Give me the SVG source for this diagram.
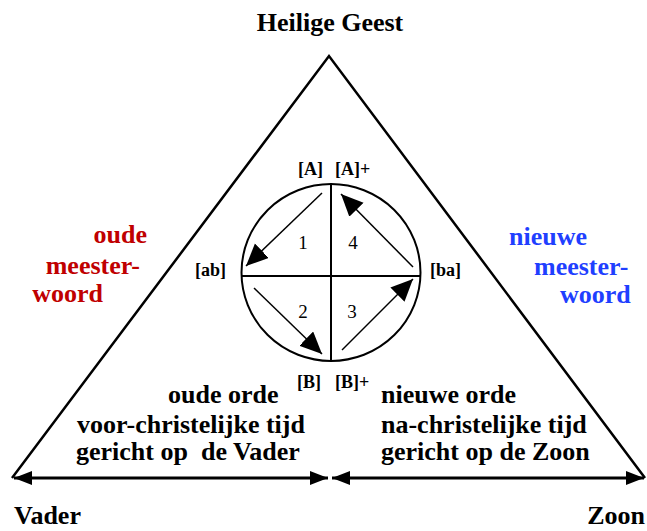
<svg xmlns="http://www.w3.org/2000/svg" width="647" height="531" viewBox="0 0 647 531">
<style>
.t{font-family:"Liberation Serif","Times New Roman",serif;font-weight:bold;fill:#000;white-space:pre}
.big{font-size:26px}
.lbl{font-size:18px}
.num{font-family:"Liberation Serif","Times New Roman",serif;font-size:19px;fill:#000;text-anchor:middle}
.red{fill:#c00000}
.blue{fill:#1f3fff}
.edge{fill:none;stroke:#000;stroke-width:2.5;stroke-linejoin:miter}
.base{stroke:#000;stroke-width:3}
.ca{stroke:#000;stroke-width:1.5}
</style>
<defs>
<marker id="bh" markerUnits="userSpaceOnUse" markerWidth="20" markerHeight="16" refX="18" refY="7" orient="auto-start-reverse" viewBox="0 0 20 16">
<path d="M0,0 L18,7 L0,14 z" fill="#000"/>
</marker>
<marker id="ch" markerUnits="userSpaceOnUse" markerWidth="24" markerHeight="22" refX="22" refY="10" orient="auto" viewBox="0 0 24 22">
<path d="M0,0 L22,10 L0,20 z" fill="#000"/>
</marker>
</defs>

<g id="title">
<text class="t big" x="330" y="31" text-anchor="middle">Heilige Geest</text>
</g>

<g id="triangle">
<polyline class="edge" points="12,478 329,56 645,478"/>
</g>

<g id="connectors">
<line class="base" x1="14" y1="478" x2="328" y2="478" marker-start="url(#bh)" marker-end="url(#bh)"/>
<line class="base" x1="332" y1="478" x2="644" y2="478" marker-start="url(#bh)" marker-end="url(#bh)"/>
<line class="ca" x1="322" y1="193" x2="246" y2="266" marker-end="url(#ch)"/>
<line class="ca" x1="413" y1="267" x2="341" y2="194" marker-end="url(#ch)"/>
<line class="ca" x1="254" y1="288" x2="322" y2="354" marker-end="url(#ch)"/>
<line class="ca" x1="342" y1="350" x2="413" y2="279" marker-end="url(#ch)"/>
</g>

<g id="circle">
<ellipse cx="331" cy="272.5" rx="89.5" ry="88.5" fill="none" stroke="#000" stroke-width="2"/>
<line x1="331" y1="184" x2="331" y2="361" stroke="#000" stroke-width="2"/>
<line x1="242" y1="276" x2="420" y2="276" stroke="#000" stroke-width="2"/>
<text class="num" x="303" y="249">1</text>
<text class="num" x="353" y="249">4</text>
<text class="num" x="303" y="318">2</text>
<text class="num" x="352" y="318">3</text>
</g>

<g id="labels">
<text class="t lbl" x="298" y="175">[A]</text>
<text class="t lbl" x="335" y="175">[A]+</text>
<text class="t lbl" x="195" y="276">[ab]</text>
<text class="t lbl" x="430" y="276">[ba]</text>
<text class="t lbl" x="297" y="388">[B]</text>
<text class="t lbl" x="335" y="388">[B]+</text>
</g>

<g id="oude-meesterwoord">
<text class="t big red" x="147" y="243" text-anchor="end">oude</text>
<text class="t big red" x="140" y="274" text-anchor="end">meester-</text>
<text class="t big red" x="103" y="302" text-anchor="end">woord</text>
</g>

<g id="nieuwe-meesterwoord">
<text class="t big blue" x="509" y="245">nieuwe</text>
<text class="t big blue" x="534" y="275">meester-</text>
<text class="t big blue" x="560" y="303">woord</text>
</g>

<g id="oude-orde">
<text class="t big" x="168" y="403">oude orde</text>
<text class="t big" x="77" y="433">voor-christelijke tijd</text>
<text class="t big" x="76" y="460">gericht op  de Vader</text>
</g>

<g id="nieuwe-orde">
<text class="t big" x="381" y="403">nieuwe orde</text>
<text class="t big" x="381" y="433">na-christelijke tijd</text>
<text class="t big" x="381" y="460">gericht op de Zoon</text>
</g>

<g id="vader">
<text class="t big" x="14" y="524">Vader</text>
</g>
<g id="zoon">
<text class="t big" x="645" y="524" text-anchor="end">Zoon</text>
</g>
</svg>
